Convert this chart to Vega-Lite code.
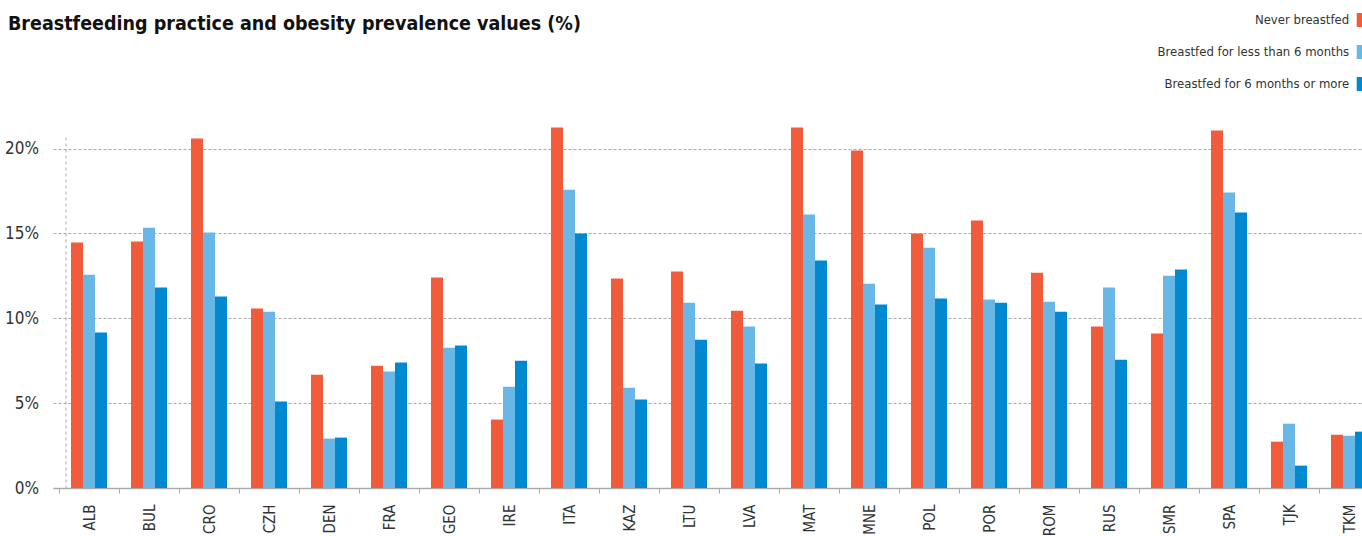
{
  "$schema": "https://vega.github.io/schema/vega-lite/v6.json",
  "autosize": {"type": "none"},
  "padding": {"left": 53, "top": 135, "right": 0, "bottom": 48},
  "width": 1309,
  "height": 353,
  "background": "white",
  "title": {
    "text": "Breastfeeding practice and obesity prevalence values (%)",
    "anchor": "start",
    "frame": "group",
    "font": "DejaVu Sans Condensed, Liberation Sans Narrow, sans-serif",
    "fontSize": 19.5,
    "fontWeight": "bold",
    "color": "#111111",
    "dx": -45,
    "dy": 25
  },
  "data": {
    "values": [
      {"country": "ALB", "group": "Never breastfed", "value": 14.46},
      {"country": "ALB", "group": "Breastfed for less than 6 months", "value": 12.57},
      {"country": "ALB", "group": "Breastfed for 6 months or more", "value": 9.16},
      {"country": "BUL", "group": "Never breastfed", "value": 14.52},
      {"country": "BUL", "group": "Breastfed for less than 6 months", "value": 15.34},
      {"country": "BUL", "group": "Breastfed for 6 months or more", "value": 11.81},
      {"country": "CRO", "group": "Never breastfed", "value": 20.59},
      {"country": "CRO", "group": "Breastfed for less than 6 months", "value": 15.05},
      {"country": "CRO", "group": "Breastfed for 6 months or more", "value": 11.28},
      {"country": "CZH", "group": "Never breastfed", "value": 10.57},
      {"country": "CZH", "group": "Breastfed for less than 6 months", "value": 10.39},
      {"country": "CZH", "group": "Breastfed for 6 months or more", "value": 5.09},
      {"country": "DEN", "group": "Never breastfed", "value": 6.68},
      {"country": "DEN", "group": "Breastfed for less than 6 months", "value": 2.91},
      {"country": "DEN", "group": "Breastfed for 6 months or more", "value": 2.97},
      {"country": "FRA", "group": "Never breastfed", "value": 7.21},
      {"country": "FRA", "group": "Breastfed for less than 6 months", "value": 6.86},
      {"country": "FRA", "group": "Breastfed for 6 months or more", "value": 7.39},
      {"country": "GEO", "group": "Never breastfed", "value": 12.40},
      {"country": "GEO", "group": "Breastfed for less than 6 months", "value": 8.27},
      {"country": "GEO", "group": "Breastfed for 6 months or more", "value": 8.39},
      {"country": "IRE", "group": "Never breastfed", "value": 4.03},
      {"country": "IRE", "group": "Breastfed for less than 6 months", "value": 5.97},
      {"country": "IRE", "group": "Breastfed for 6 months or more", "value": 7.50},
      {"country": "ITA", "group": "Never breastfed", "value": 21.24},
      {"country": "ITA", "group": "Breastfed for less than 6 months", "value": 17.58},
      {"country": "ITA", "group": "Breastfed for 6 months or more", "value": 14.99},
      {"country": "KAZ", "group": "Never breastfed", "value": 12.34},
      {"country": "KAZ", "group": "Breastfed for less than 6 months", "value": 5.91},
      {"country": "KAZ", "group": "Breastfed for 6 months or more", "value": 5.21},
      {"country": "LTU", "group": "Never breastfed", "value": 12.75},
      {"country": "LTU", "group": "Breastfed for less than 6 months", "value": 10.92},
      {"country": "LTU", "group": "Breastfed for 6 months or more", "value": 8.74},
      {"country": "LVA", "group": "Never breastfed", "value": 10.45},
      {"country": "LVA", "group": "Breastfed for less than 6 months", "value": 9.51},
      {"country": "LVA", "group": "Breastfed for 6 months or more", "value": 7.33},
      {"country": "MAT", "group": "Never breastfed", "value": 21.24},
      {"country": "MAT", "group": "Breastfed for less than 6 months", "value": 16.11},
      {"country": "MAT", "group": "Breastfed for 6 months or more", "value": 13.40},
      {"country": "MNE", "group": "Never breastfed", "value": 19.88},
      {"country": "MNE", "group": "Breastfed for less than 6 months", "value": 12.04},
      {"country": "MNE", "group": "Breastfed for 6 months or more", "value": 10.81},
      {"country": "POL", "group": "Never breastfed", "value": 14.99},
      {"country": "POL", "group": "Breastfed for less than 6 months", "value": 14.16},
      {"country": "POL", "group": "Breastfed for 6 months or more", "value": 11.16},
      {"country": "POR", "group": "Never breastfed", "value": 15.76},
      {"country": "POR", "group": "Breastfed for less than 6 months", "value": 11.10},
      {"country": "POR", "group": "Breastfed for 6 months or more", "value": 10.92},
      {"country": "ROM", "group": "Never breastfed", "value": 12.69},
      {"country": "ROM", "group": "Breastfed for less than 6 months", "value": 10.98},
      {"country": "ROM", "group": "Breastfed for 6 months or more", "value": 10.39},
      {"country": "RUS", "group": "Never breastfed", "value": 9.51},
      {"country": "RUS", "group": "Breastfed for less than 6 months", "value": 11.81},
      {"country": "RUS", "group": "Breastfed for 6 months or more", "value": 7.56},
      {"country": "SMR", "group": "Never breastfed", "value": 9.10},
      {"country": "SMR", "group": "Breastfed for less than 6 months", "value": 12.51},
      {"country": "SMR", "group": "Breastfed for 6 months or more", "value": 12.87},
      {"country": "SPA", "group": "Never breastfed", "value": 21.06},
      {"country": "SPA", "group": "Breastfed for less than 6 months", "value": 17.41},
      {"country": "SPA", "group": "Breastfed for 6 months or more", "value": 16.23},
      {"country": "TJK", "group": "Never breastfed", "value": 2.73},
      {"country": "TJK", "group": "Breastfed for less than 6 months", "value": 3.79},
      {"country": "TJK", "group": "Breastfed for 6 months or more", "value": 1.32},
      {"country": "TKM", "group": "Never breastfed", "value": 3.14},
      {"country": "TKM", "group": "Breastfed for less than 6 months", "value": 3.08},
      {"country": "TKM", "group": "Breastfed for 6 months or more", "value": 3.32}
    ]
  },
  "mark": {"type": "bar", "clip": false},
  "encoding": {
    "x": {
      "field": "country",
      "type": "nominal",
      "sort": null,
      "scale": {"range": [0, 1332], "paddingInner": 0, "paddingOuter": 0.1},
      "axis": {
        "title": null,
        "labelAngle": -90,
        "labelFont": "DejaVu Sans Condensed, Liberation Sans Narrow, sans-serif",
        "labelFontSize": 15,
        "labelColor": "#333333",
        "labelPadding": 11,
        "tickBand": "extent",
        "tickSize": 5,
        "tickColor": "#aaaaaa",
        "domainColor": "#aaaaaa",
        "domainWidth": 1.5,
        "grid": false
      }
    },
    "xOffset": {
      "field": "group",
      "type": "nominal",
      "sort": ["Never breastfed", "Breastfed for less than 6 months", "Breastfed for 6 months or more"],
      "scale": {"paddingInner": 0, "paddingOuter": 1.31}
    },
    "y": {
      "field": "value",
      "type": "quantitative",
      "scale": {"domain": [0, 20.8], "nice": false},
      "axis": {
        "title": null,
        "values": [0, 5, 10, 15, 20],
        "labelExpr": "datum.value + '%'",
        "labelFont": "DejaVu Sans Condensed, Liberation Sans Narrow, sans-serif",
        "labelFontSize": 17,
        "labelColor": "#333333",
        "labelPadding": 27,
        "ticks": false,
        "offset": -12.5,
        "domainColor": "#aaaaaa",
        "domainDash": [3, 3],
        "grid": true,
        "gridColor": "#aaaaaa",
        "gridDash": [3, 2]
      }
    },
    "color": {
      "field": "group",
      "type": "nominal",
      "sort": ["Never breastfed", "Breastfed for less than 6 months", "Breastfed for 6 months or more"],
      "scale": {
        "domain": ["Never breastfed", "Breastfed for less than 6 months", "Breastfed for 6 months or more"],
        "range": ["#f05b3b", "#69b7e6", "#0089d0"]
      },
      "legend": {
        "title": null,
        "orient": "none",
        "legendX": 1299.5,
        "legendY": -122,
        "padding": 0,
        "symbolType": "M-0.4,-1L0.4,-1L0.4,1L-0.4,1Z",
        "symbolSize": 196,
        "symbolStrokeWidth": 0,
        "symbolOpacity": 1,
        "labelAlign": "right",
        "labelOffset": -17.3,
        "labelFont": "DejaVu Sans Condensed, Liberation Sans Narrow, sans-serif",
        "labelFontSize": 13,
        "labelColor": "#333333",
        "labelLimit": 400,
        "rowPadding": 18
      }
    }
  },
  "config": {"view": {"stroke": null}}
}
